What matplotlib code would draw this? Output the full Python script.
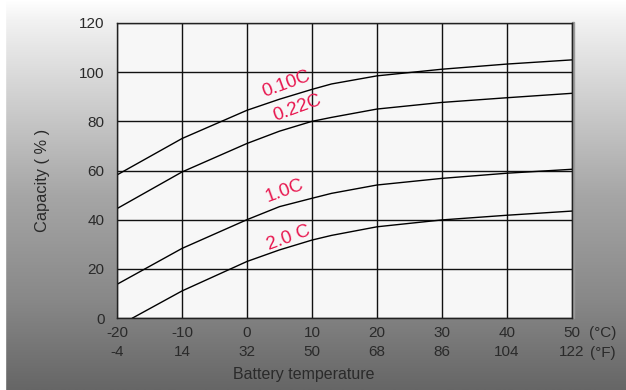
import numpy as np
import matplotlib
matplotlib.use("Agg")
import matplotlib.pyplot as plt
from matplotlib.colors import LinearSegmentedColormap

# ---- data ----
temps_c = [-20, -10, 0, 10, 20, 30, 40, 50]
temps_f = [-4, 14, 32, 50, 68, 86, 104, 122]
y_ticks = [0, 20, 40, 60, 80, 100, 120]

x_pts = [-20, -10, 0, 5, 10, 13, 20, 30, 40, 50]
cap_010 = [58.2, 73.0, 84.5, 89.0, 93.0, 95.2, 98.5, 101.2, 103.3, 105.0]
cap_022 = [44.5, 59.4, 71.0, 76.0, 80.0, 81.6, 85.0, 87.7, 89.6, 91.4]
cap_10 = [13.7, 28.3, 40.0, 45.3, 48.7, 50.7, 54.1, 56.8, 58.9, 60.5]
x_pts_20 = [-17.6, -10, 0, 5, 10, 13, 20, 30, 40, 50]
cap_20 = [0.0, 11.0, 23.0, 27.7, 31.7, 33.6, 37.1, 39.9, 41.8, 43.5]

labels = ["0.10C", "0.22C", "1.0C", "2.0 C"]
label_pos = [(6.1, 95.0), (7.7, 85.2), (5.8, 51.5), (6.4, 32.7)]

plt.rcParams['font.family'] = ['Liberation Sans', 'DejaVu Sans']

W, H = 626, 390
fig = plt.figure(figsize=(W / 100, H / 100), dpi=100)

# background gradient
bg = fig.add_axes([0, 0, 1, 1], zorder=-10)
bg.set_axis_off()
cmap = LinearSegmentedColormap.from_list(
    "bg", [(0.0, "#ffffff"), (0.05, "#f2f2f2"), (0.25, "#d0d0d0"),
           (0.5, "#a6a6a6"), (0.77, "#888888"), (1.0, "#666666")])
grad = np.linspace(0, 1, 256).reshape(-1, 1)
bg.imshow(grad, aspect="auto", cmap=cmap, extent=[0, 1, 0, 1], origin="upper")
bg.axvspan(0, 5 / W, color="white")
bg.set_xlim(0, 1)
bg.set_ylim(0, 1)

L, R, T, B = 117, 572, 23, 318
# faint shadow on right edge of plot
bg.axvspan(R / W, (R + 2) / W, ymin=1 - B / H, ymax=1 - (T - 1) / H, color="#9a9a9a")

ax = fig.add_axes([L / W, 1 - B / H, (R - L) / W, (B - T) / H])
ax.set_facecolor("#f7f7f7")
ax.set_xlim(-20, 50)
ax.set_ylim(0, 120)

ax.set_xticks(temps_c)
ax.set_yticks(y_ticks)
ax.grid(True, color="#111111", linewidth=1.0)
ax.set_axisbelow(True)
for s in ax.spines.values():
    s.set_color("#222222")
    s.set_linewidth(1.0)
ax.tick_params(length=0)
ax.tick_params(axis="y", pad=9, labelsize=11, labelcolor="#2a2a2a")
ax.tick_params(axis="x", pad=6, labelsize=11, labelcolor="#2a2a2a")
ax.set_yticklabels([str(v) for v in y_ticks])
ax.set_xticklabels([f"{c}\n{f}" for c, f in zip(temps_c, temps_f)],
                   linespacing=1.45)

for xs, ys in [(x_pts, cap_010), (x_pts, cap_022), (x_pts, cap_10), (x_pts_20, cap_20)]:
    ax.plot(xs, ys, color="black", linewidth=1.0, clip_on=True)

for lab, (lx, ly) in zip(labels, label_pos):
    ax.text(lx, ly, lab, color="#e8174f", fontsize=13.5, rotation=20,
            ha="center", va="center", rotation_mode="anchor")

fig.text(603 / W, 1 - 333 / H, "(°C)", ha="center", va="center",
         fontsize=11, color="#2a2a2a")
fig.text(603 / W, 1 - 353 / H, "(°F)", ha="center", va="center",
         fontsize=11, color="#2a2a2a")
fig.text(304 / W, 1 - 374 / H, "Battery temperature", ha="center", va="center",
         fontsize=11.5, color="#2a2a2a")
fig.text(42 / W, 1 - 180 / H, "Capacity ( % )", ha="center", va="center",
         fontsize=11.8, color="#2a2a2a", rotation=90)

fig.savefig("out.png", dpi=100)
